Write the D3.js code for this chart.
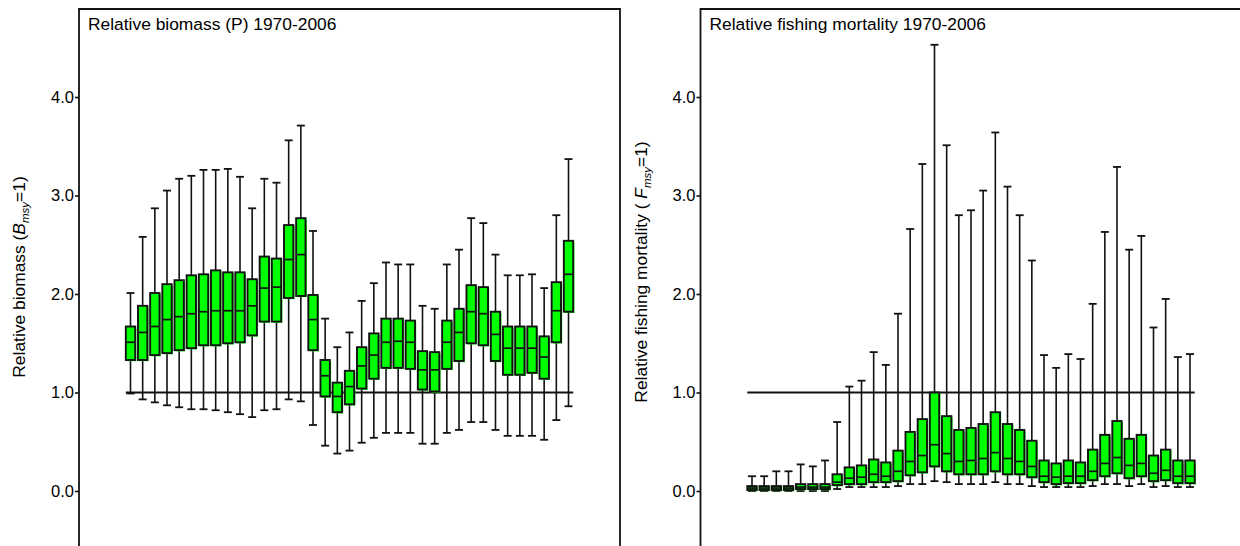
<!DOCTYPE html>
<html>
<head>
<meta charset="utf-8">
<script src="https://cdn.jsdelivr.net/npm/d3@7"></script>
<style>
  body { margin: 0; background: #fff; }
  svg { display: block; font-family: "Liberation Sans", Arial, sans-serif; }
</style>
</head>
<body>
<script>
var years = d3.range(1970, 2007);

// relative biomass (B/Bmsy): whisker low, lower quartile, median, upper quartile, whisker high
var bLow  = [0.99,0.93,0.90,0.87,0.85,0.83,0.83,0.82,0.80,0.78,0.75,0.82,0.83,0.93,0.91,0.67,0.46,0.38,0.41,0.49,0.54,0.59,0.59,0.59,0.48,0.48,0.59,0.62,0.70,0.70,0.62,0.56,0.56,0.56,0.52,0.72,0.86];
var bQ1   = [1.33,1.33,1.38,1.40,1.43,1.45,1.48,1.48,1.50,1.51,1.58,1.72,1.72,1.96,1.98,1.43,0.96,0.80,0.88,1.04,1.14,1.25,1.25,1.24,1.03,1.01,1.24,1.32,1.50,1.48,1.32,1.18,1.18,1.20,1.14,1.51,1.82];
var bMed  = [1.51,1.61,1.67,1.74,1.77,1.80,1.82,1.83,1.83,1.83,1.88,2.06,2.07,2.35,2.40,1.74,1.17,0.96,1.06,1.27,1.38,1.51,1.52,1.51,1.23,1.23,1.51,1.61,1.82,1.80,1.59,1.45,1.45,1.45,1.36,1.83,2.20];
var bQ3   = [1.67,1.88,2.01,2.10,2.14,2.19,2.20,2.24,2.22,2.22,2.15,2.38,2.36,2.70,2.77,1.99,1.33,1.10,1.22,1.46,1.60,1.75,1.75,1.73,1.42,1.41,1.73,1.85,2.09,2.07,1.82,1.67,1.67,1.67,1.57,2.12,2.54];
var bHigh = [2.01,2.58,2.87,3.05,3.17,3.20,3.26,3.26,3.27,3.19,2.87,3.17,3.13,3.56,3.71,2.64,1.75,1.46,1.61,1.93,2.11,2.32,2.30,2.30,1.88,1.85,2.30,2.45,2.77,2.72,2.40,2.19,2.19,2.20,2.06,2.80,3.37];

// relative fishing mortality (F/Fmsy)
var fLow  = [0.00,0.00,0.00,0.00,0.00,0.00,0.00,0.02,0.04,0.04,0.04,0.04,0.05,0.07,0.07,0.10,0.09,0.07,0.07,0.07,0.09,0.07,0.07,0.05,0.04,0.04,0.04,0.04,0.05,0.07,0.07,0.05,0.07,0.04,0.05,0.04,0.04];
var fQ1   = [0.01,0.01,0.01,0.01,0.02,0.02,0.02,0.06,0.07,0.07,0.09,0.09,0.10,0.16,0.19,0.25,0.20,0.17,0.17,0.17,0.20,0.17,0.17,0.14,0.09,0.07,0.08,0.08,0.11,0.15,0.18,0.13,0.15,0.10,0.11,0.08,0.08];
var fMed  = [0.03,0.03,0.03,0.03,0.04,0.04,0.04,0.09,0.13,0.14,0.17,0.15,0.20,0.30,0.36,0.47,0.38,0.30,0.31,0.33,0.39,0.33,0.30,0.25,0.15,0.14,0.15,0.15,0.20,0.28,0.34,0.26,0.28,0.18,0.21,0.15,0.15];
var fQ3   = [0.05,0.05,0.05,0.05,0.07,0.07,0.07,0.17,0.24,0.26,0.32,0.29,0.41,0.60,0.73,1.00,0.76,0.62,0.64,0.68,0.80,0.68,0.62,0.51,0.31,0.28,0.31,0.29,0.42,0.57,0.71,0.53,0.57,0.36,0.42,0.31,0.31];
var fHigh = [0.15,0.15,0.20,0.20,0.27,0.25,0.31,0.70,1.06,1.12,1.41,1.28,1.80,2.66,3.32,4.53,3.51,2.80,2.85,3.05,3.64,3.09,2.80,2.34,1.38,1.25,1.39,1.34,1.90,2.63,3.29,2.45,2.59,1.66,1.95,1.36,1.39];

var yTicks = [0, 1, 2, 3, 4];
var refLevel = 1;

var width = 1240, height = 546;
var svg = d3.select("body").append("svg")
    .attr("width", width)
    .attr("height", height);

var y = d3.scaleLinear()
    .domain([0, 4])
    .range([491, 97]);

var tickFont = 16.5,
    labelFont = 17.4;

function drawPanel(left, right, title, labelMain, labelVar, labelMid, lo, q1, med, q3, hi) {
    var g = svg.append("g");

    var x = d3.scalePoint()
        .domain(years)
        .range([left + 51.5, right - 51.5]);
    var bw = x.step() * 0.77;
    var cap = bw * 0.85;

    var rows = years.map((yr, i) => ({yr: yr, lo: lo[i], q1: q1[i], med: med[i], q3: q3[i], hi: hi[i]}));

    // reference line at 1
    g.append("line")
        .attr("x1", x(years[0]) - bw / 2)
        .attr("x2", x(years[years.length - 1]) + bw / 2)
        .attr("y1", y(refLevel))
        .attr("y2", y(refLevel))
        .attr("stroke", "#111")
        .attr("stroke-width", 1.8);

    var box = g.selectAll(".box")
        .data(rows)
        .enter().append("g")
        .attr("class", "box");

    box.append("line")
        .attr("x1", d => x(d.yr)).attr("x2", d => x(d.yr))
        .attr("y1", d => y(d.lo)).attr("y2", d => y(d.hi))
        .attr("stroke", "#111").attr("stroke-width", 1.6);

    box.selectAll(".cap")
        .data(d => [{yr: d.yr, v: d.lo}, {yr: d.yr, v: d.hi}])
        .enter().append("line")
        .attr("x1", d => x(d.yr) - cap / 2).attr("x2", d => x(d.yr) + cap / 2)
        .attr("y1", d => y(d.v)).attr("y2", d => y(d.v))
        .attr("stroke", "#111").attr("stroke-width", 1.8);

    // green halo behind the box
    box.append("rect")
        .attr("x", d => x(d.yr) - bw / 2 + 1.2)
        .attr("y", d => y(d.q3) + 1.2)
        .attr("width", bw)
        .attr("height", d => Math.max(1, y(d.q1) - y(d.q3)))
        .attr("fill", "#00ff00");

    box.append("rect")
        .attr("x", d => x(d.yr) - bw / 2)
        .attr("y", d => y(d.q3))
        .attr("width", bw)
        .attr("height", d => Math.max(0.5, y(d.q1) - y(d.q3)))
        .attr("fill", "#00ff00")
        .attr("stroke", "#111")
        .attr("stroke-width", 1.9);

    box.append("line")
        .attr("x1", d => x(d.yr) - bw / 2).attr("x2", d => x(d.yr) + bw / 2)
        .attr("y1", d => y(d.med)).attr("y2", d => y(d.med))
        .attr("stroke", "#111").attr("stroke-width", 1.7);

    // y axis
    var axis = g.append("g")
        .attr("transform", `translate(${left},0)`)
        .call(d3.axisLeft(y).tickValues(yTicks).tickFormat(d3.format(".1f")).tickSize(4).tickPadding(1));
    axis.select(".domain").remove();
    axis.selectAll("line").attr("stroke", "#111").attr("stroke-width", 1.6);
    axis.selectAll("text")
        .attr("fill", "#000")
        .style("font-size", tickFont + "px")
        .style("font-family", "'Liberation Sans', Arial, sans-serif");

    // frame (bottom edge runs past the picture)
    g.append("path")
        .attr("d", `M${left},${height + 5}V9H${right}V${height + 5}`)
        .attr("fill", "none")
        .attr("stroke", "#111")
        .attr("stroke-width", 1.8);

    g.append("text")
        .attr("x", left + 9)
        .attr("y", 30)
        .attr("font-size", labelFont)
        .text(title);

    var lab = g.append("text")
        .attr("transform", `translate(${left - 54},${labelMid}) rotate(-90)`)
        .attr("text-anchor", "middle")
        .attr("font-size", labelFont);
    lab.append("tspan").text(labelMain);
    lab.append("tspan").attr("font-style", "italic").text(labelVar);
    lab.append("tspan").attr("font-style", "italic").attr("font-size", 11.5).attr("dy", 4).text("msy");
    lab.append("tspan").attr("dy", -4).text("=1)");
}

drawPanel(79, 620, "Relative biomass (P) 1970-2006", "Relative biomass (", "B", 277,
    bLow, bQ1, bMed, bQ3, bHigh);
drawPanel(700.5, 1241.5, "Relative fishing mortality 1970-2006", "Relative fishing mortality ( ", "F", 272,
    fLow, fQ1, fMed, fQ3, fHigh);
</script>
</body>
</html>
